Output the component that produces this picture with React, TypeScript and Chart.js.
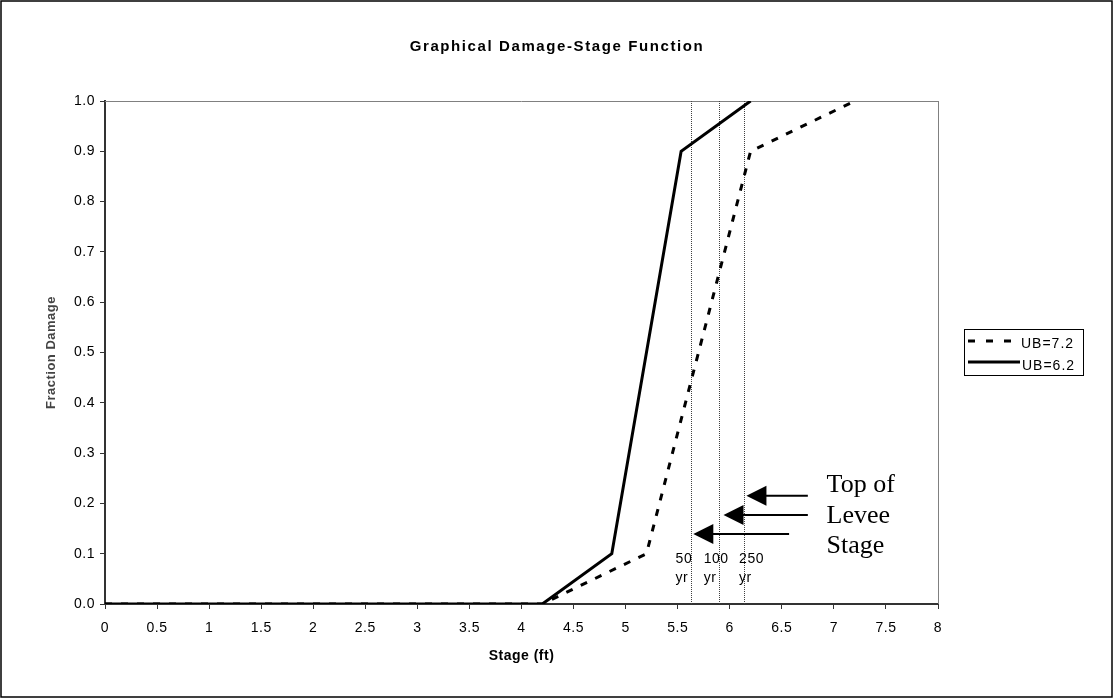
import React, { useEffect, useRef } from "react";
import { Chart, registerables } from "chart.js";

Chart.register(...registerables);

// ---- data ----
const seriesLabels = ["UB=7.2", "UB=6.2"];
const stageUB72 = [0, 4.2, 5.2, 6.2, 7.2];
const damageUB72 = [0, 0, 0.1, 0.9, 1.0];
const stageUB62 = [0, 4.2, 4.867, 5.533, 6.2];
const damageUB62 = [0, 0, 0.1, 0.9, 1.0];

const xMin = 0;
const xMax = 8;
const xStep = 0.5;
const yMin = 0;
const yMax = 1;
const yStep = 0.1;

const chartTitle = "Graphical Damage-Stage Function";
const xTitle = "Stage (ft)";
const yTitle = "Fraction Damage";

// return-period stage markers
const returnPeriodStages = [5.63, 5.9, 6.14];
const returnPeriodNumbers = ["50", "100", "250"];
const returnPeriodUnit = "yr";
const returnPeriodLabelStages = [5.48, 5.75, 6.09];
const returnPeriodNumberDamage = 0.089;
const returnPeriodUnitDamage = 0.052;

// arrows pointing to the markers
const arrowTipStages = [6.16, 5.94, 5.65];
const arrowTailStages = [6.75, 6.75, 6.57];
const arrowDamages = [0.215, 0.177, 0.139];

// note text
const noteLines = ["Top of", "Levee", "Stage"];
const noteStage = 6.93;
const noteBaselineDamages = [0.223, 0.161, 0.101];

const SANS = 'Arial, "Liberation Sans", Helvetica, sans-serif';
const SERIF = '"Times New Roman", "Liberation Serif", Times, serif';
const BASE_SPACING = "0.5px";

const decorPlugin = {
  id: "decor",
  beforeUpdate(chart: any) {
    chart.ctx.letterSpacing = BASE_SPACING;
  },
  beforeLayout(chart: any) {
    chart.ctx.letterSpacing = BASE_SPACING;
  },
  beforeDraw(chart: any) {
    const ctx = chart.ctx;
    ctx.letterSpacing = BASE_SPACING;
    ctx.save();
    ctx.fillStyle = "#ffffff";
    ctx.fillRect(0, 0, chart.width, chart.height);
    ctx.restore();
  },
  beforeDatasetsDraw(chart: any) {
    const ctx = chart.ctx;
    const { top, bottom, left, right } = chart.chartArea;
    const xs = chart.scales.x;
    ctx.save();
    // plot area top/right border
    ctx.strokeStyle = "#808080";
    ctx.lineWidth = 1;
    ctx.beginPath();
    ctx.moveTo(left, Math.round(top) + 0.5);
    ctx.lineTo(right, Math.round(top) + 0.5);
    ctx.moveTo(Math.round(right) + 0.5, top);
    ctx.lineTo(Math.round(right) + 0.5, bottom);
    ctx.stroke();
    // dotted verticals
    ctx.strokeStyle = "#404040";
    ctx.setLineDash([1, 1]);
    returnPeriodStages.forEach((s) => {
      const px = Math.round(xs.getPixelForValue(s)) + 0.5;
      ctx.beginPath();
      ctx.moveTo(px, top);
      ctx.lineTo(px, bottom);
      ctx.stroke();
    });
    ctx.restore();
  },
  afterDraw(chart: any) {
    const ctx = chart.ctx;
    const xs = chart.scales.x;
    const ys = chart.scales.y;
    ctx.save();

    // title
    ctx.letterSpacing = "1.6px";
    ctx.fillStyle = "#000";
    ctx.font = `bold 15px ${SANS}`;
    ctx.textAlign = "center";
    ctx.textBaseline = "middle";
    ctx.fillText(chartTitle, 557, 47);

    // return period labels
    ctx.letterSpacing = BASE_SPACING;
    ctx.font = `14px ${SANS}`;
    ctx.textAlign = "left";
    ctx.textBaseline = "middle";
    returnPeriodNumbers.forEach((n, i) => {
      const px = xs.getPixelForValue(returnPeriodLabelStages[i]);
      ctx.fillText(n, px, ys.getPixelForValue(returnPeriodNumberDamage));
      ctx.fillText(returnPeriodUnit, px, ys.getPixelForValue(returnPeriodUnitDamage));
    });

    // arrows
    ctx.strokeStyle = "#000";
    ctx.fillStyle = "#000";
    ctx.lineWidth = 2;
    arrowTipStages.forEach((tip, i) => {
      const tx = xs.getPixelForValue(tip);
      const ex = xs.getPixelForValue(arrowTailStages[i]);
      const py = ys.getPixelForValue(arrowDamages[i]);
      ctx.beginPath();
      ctx.moveTo(tx + 18, py);
      ctx.lineTo(ex, py);
      ctx.stroke();
      ctx.beginPath();
      ctx.moveTo(tx, py);
      ctx.lineTo(tx + 20, py - 10);
      ctx.lineTo(tx + 20, py + 10);
      ctx.closePath();
      ctx.fill();
    });

    // note
    ctx.letterSpacing = "0px";
    ctx.font = `26px ${SERIF}`;
    ctx.textAlign = "left";
    ctx.textBaseline = "alphabetic";
    noteLines.forEach((t, i) => {
      ctx.fillText(t, xs.getPixelForValue(noteStage), ys.getPixelForValue(noteBaselineDamages[i]));
    });

    // legend
    const lx = 964.5, ly = 329.5, lw = 119, lh = 46;
    ctx.lineWidth = 1;
    ctx.strokeStyle = "#000";
    ctx.strokeRect(lx, ly, lw, lh);
    const dsets = chart.data.datasets;
    const rows = [341, 362];
    const textYs = [344, 366];
    dsets.forEach((d: any, i: number) => {
      ctx.save();
      ctx.lineWidth = 3;
      ctx.lineCap = "butt";
      ctx.setLineDash(i === 0 ? [7, 11] : []);
      ctx.beginPath();
      ctx.moveTo(968, rows[i]);
      ctx.lineTo(i === 0 ? 1012 : 1020, rows[i]);
      ctx.stroke();
      ctx.restore();
      ctx.letterSpacing = "1px";
      ctx.font = `14px ${SANS}`;
      ctx.textBaseline = "middle";
      ctx.textAlign = "left";
      ctx.fillStyle = "#000";
      ctx.fillText(d.label, i === 0 ? 1021 : 1022, textYs[i]);
    });

    // outer frame
    ctx.setLineDash([]);
    ctx.lineWidth = 1.5;
    ctx.strokeStyle = "#000";
    ctx.strokeRect(1, 1, chart.width - 2, chart.height - 2);

    ctx.restore();
  },
};

export default function App() {
  const ref = useRef<HTMLCanvasElement>(null);

  useEffect(() => {
    const canvas = ref.current;
    if (!canvas) return;
    const chart = new Chart(canvas, {
      type: "line",
      data: {
        datasets: [
          {
            label: seriesLabels[0],
            data: stageUB72.map((x, i) => ({ x, y: damageUB72[i] })),
            borderColor: "#000",
            backgroundColor: "#000",
            borderWidth: 3,
            borderDash: [7, 9],
            borderCapStyle: "butt",
            pointRadius: 0,
            fill: false,
            tension: 0,
          },
          {
            label: seriesLabels[1],
            data: stageUB62.map((x, i) => ({ x, y: damageUB62[i] })),
            borderColor: "#000",
            backgroundColor: "#000",
            borderWidth: 3,
            pointRadius: 0,
            fill: false,
            tension: 0,
          },
        ],
      },
      options: {
        responsive: false,
        animation: false,
        devicePixelRatio: 1,
        events: [],
        layout: { padding: { left: 0, top: 101, right: 175, bottom: 0 } },
        plugins: {
          legend: { display: false },
          title: { display: false },
          tooltip: { enabled: false },
        },
        scales: {
          x: {
            type: "linear",
            min: xMin,
            max: xMax,
            afterFit: (s: any) => {
              s.height = 94;
            },
            ticks: {
              stepSize: xStep,
              autoSkip: false,
              maxRotation: 0,
              color: "#000",
              font: { family: SANS, size: 14 },
              padding: 11,
              callback: (v: any) => String(Number(Number(v).toFixed(2))),
            },
            grid: {
              drawOnChartArea: false,
              drawTicks: true,
              tickLength: 5,
              color: "#333",
              lineWidth: 1,
            },
            border: { display: true, color: "#333", width: 2 },
            title: {
              display: true,
              text: xTitle,
              color: "#000",
              font: { family: SANS, size: 14, weight: "bold" },
              padding: { top: 0, bottom: 33 },
            },
          },
          y: {
            type: "linear",
            min: yMin,
            max: yMax,
            afterFit: (s: any) => {
              s.width = 105;
            },
            ticks: {
              stepSize: yStep,
              color: "#000",
              font: { family: SANS, size: 14 },
              padding: 5,
              callback: (v: any) => Number(v).toFixed(1),
            },
            grid: {
              drawOnChartArea: false,
              drawTicks: true,
              tickLength: 5,
              color: "#333",
              lineWidth: 1,
            },
            border: { display: true, color: "#333", width: 2 },
            title: {
              display: true,
              text: yTitle,
              color: "#444",
              font: { family: SANS, size: 13, weight: "bold" },
              padding: { top: 44, bottom: 0 },
            },
          },
        },
      },
      plugins: [decorPlugin],
    } as any);
    return () => chart.destroy();
  }, []);

  return (
    <div
      style={{
        position: "absolute",
        left: 0,
        top: 0,
        width: 1113,
        height: 698,
        background: "#fff",
      }}
    >
      <canvas ref={ref} width={1113} height={698} style={{ display: "block" }} />
    </div>
  );
}
